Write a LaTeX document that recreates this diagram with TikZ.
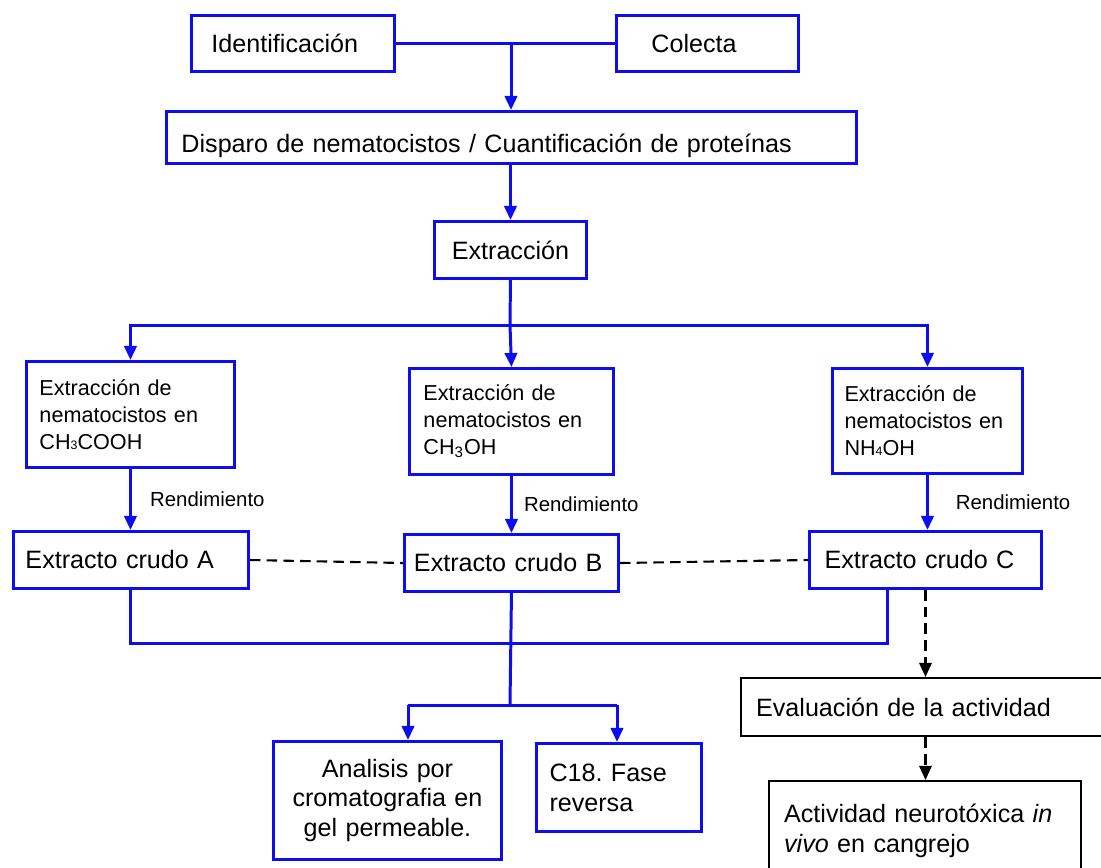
\documentclass[tikz,border=0pt]{standalone}
\usepackage{fontspec}
\setmainfont{Liberation Sans}
\usetikzlibrary{arrows.meta}
\usetikzlibrary{positioning}
\tikzset{->/.style = {-{Triangle[length=8pt, width=7pt]}}}
\tikzset{box/.style = {draw=mblue, line width=1.7pt, anchor=north west, align=left,
                       font=\fontsize{14.3}{17}\selectfont}}
\tikzset{sbox/.style = {box, font=\fontsize{12.3}{15.3}\selectfont}}
\tikzset{kbox/.style = {box, draw=black, line width=1.3pt}}
\tikzset{conn/.style = {mblue, line width=1.7pt}}
\tikzset{dline/.style = {black, line width=1.2pt, dash pattern=on 6pt off 3.5pt}}
\tikzset{rend/.style = {font=\fontsize{11.6}{14}\selectfont}}
\definecolor{mblue}{rgb}{0.05, 0.05, 0.95}

\begin{document}
\begin{tikzpicture}[x=0.02cm, y=-0.02cm]
    \useasboundingbox (0, 0) rectangle (1101, 867);

    \node [box, inner xsep=0.4cm, text width=3.26cm, minimum height=1.12cm] (idn) at (190, 14) {Identificación};
    \node [box, inner xsep=0.7cm, text width=2.24cm, minimum height=1.12cm] (col) at (615, 14) {Colecta};
    \node [box, inner xsep=0.3cm, text width=13.2cm, text height=0.71cm, text depth=0.09cm] (dis) at (165, 110) {Disparo de nematocistos / Cuantificación de proteínas};
    \node [box, align=center, inner xsep=0.3cm, text width=2.44cm, minimum height=1.14cm] (ext) at (433, 220) {Extracción};

    \node [sbox, inner xsep=0.26cm, text width=3.64cm, minimum height=2.12cm] (eA) at (25, 360) {Extracción de\\nematocistos en\\CH{\fontsize{7}{7}\selectfont 3}COOH};
    \node [sbox, inner xsep=0.28cm, text width=3.52cm, minimum height=2.12cm] (eB) at (408, 367) {Extracción de\\nematocistos en\\CH\textsubscript{3}OH};
    \node [sbox, inner xsep=0.24cm, text width=3.32cm, minimum height=2.1cm] (eC) at (831, 367) {Extracción de\\nematocistos en\\NH{\fontsize{7}{7}\selectfont 4}OH};

    \node [box, inner xsep=0.24cm, text width=4.22cm, minimum height=1.14cm] (cA) at (12, 530) {Extracto crudo A};
    \node [box, inner xsep=0.19cm, text width=3.9cm, minimum height=1.14cm] (cB) at (403, 533) {Extracto crudo B};
    \node [box, inner xsep=0.3cm, text width=4.04cm, minimum height=1.14cm] (cC) at (808, 530) {Extracto crudo C};

    \node [box, align=center, inner xsep=0.28cm, text width=4.0cm, minimum height=2.36cm] (ana) at (272, 740) {Analisis por\\cromatografia en\\gel permeable.};
    \node [box, inner xsep=0.26cm, text width=2.78cm, minimum height=1.76cm] (c18) at (535, 742) {C18.\ Fase\\reversa};
    \node [kbox, inner xsep=0.3cm, text width=6.8cm, minimum height=1.16cm] (eva) at (740, 677) {Evaluación de la actividad};
    \node [kbox, inner xsep=0.3cm, text width=5.64cm, minimum height=2.0cm] (act) at (768, 780) {Actividad neurotóxica \textit{in}\\\textit{vivo} en cangrejo};

    % top
    \coordinate (j1) at (511, 42);
    \draw [conn] (idn.east) -- (col.west);
    \draw [conn, ->] (j1) -- (j1 |- dis.north);
    \draw [conn, ->] (ext.north |- dis.south) -- (ext.north);

    % extraction branches
    \coordinate (j2) at (510, 325);
    \draw [conn] (ext.south) -- (j2);
    \draw [conn, ->] (j2) -| (eA.north);
    \draw [conn, ->] (j2) -- (eB.north);
    \draw [conn, ->] (j2) -| (eC.north);

    \draw [conn, ->] (eA.south) -- (eA.south |- cA.north) node [rend, midway, right=7pt, black] (rA) {Rendimiento};
    \draw [conn, ->] (eB.south) -- (eB.south |- cB.north) node [rend, midway, right=3pt, black] (rB) {Rendimiento};
    \draw [conn, ->] (eC.south) -- (eC.south |- cC.north) node [rend, midway, right=12pt, black] (rC) {Rendimiento};

    \draw [dline] (cA.east) -- (cB.west);
    \draw [dline] (cB.east) -- (cC.west);

    % lower join
    \coordinate (j3) at (887, 643);
    \draw [conn] (cA.south) |- (j3) -- (j3 |- cC.south);
    \coordinate (j4) at (510, 705);
    \coordinate (j5) at (408, 705);
    \coordinate (j6) at (617, 705);
    \draw [conn] (cB.south) -- (j4);
    \draw [conn] (j5) -- (j6);
    \draw [conn, ->] (j5) -- (j5 |- ana.north);
    \draw [conn, ->] (j6) -- (j6 |- c18.north);

    % activity
    \draw [dline, ->] (cC.south) -- (cC.south |- eva.north);
    \draw [dline, ->] (cC.south |- eva.south) -- (cC.south |- act.north);
\end{tikzpicture}
\end{document}
